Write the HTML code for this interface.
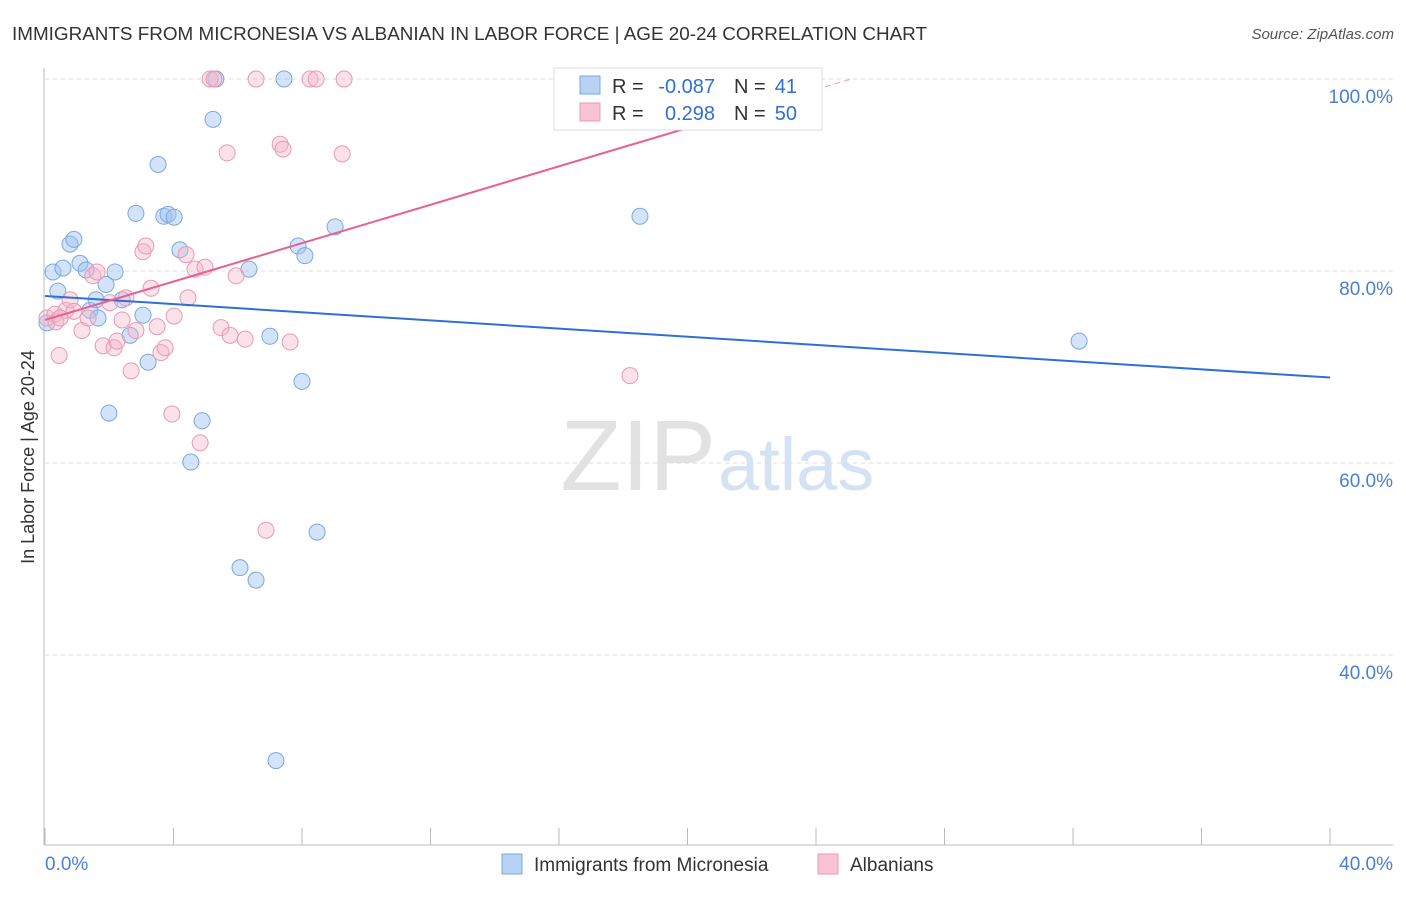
<!DOCTYPE html>
<html><head><meta charset="utf-8"><style>
body{margin:0;background:#fff;font-family:"Liberation Sans",sans-serif;}
svg text{font-family:"Liberation Sans",sans-serif;}
</style></head><body>
<svg id="c" width="1406" height="892">
<text x="12" y="40" font-size="18" fill="#333" textLength="915" lengthAdjust="spacingAndGlyphs">IMMIGRANTS FROM MICRONESIA VS ALBANIAN IN LABOR FORCE | AGE 20-24 CORRELATION CHART</text>
<text x="1394" y="39" font-size="15" fill="#555" font-style="italic" text-anchor="end">Source: ZipAtlas.com</text>
<text x="716" y="490" font-size="100" fill="#e2e2e2" text-anchor="end" font-family="Liberation Serif">ZIP</text>
<text x="718" y="490" font-size="74" fill="#d4e2f4">atlas</text>
<text transform="translate(34,457) rotate(-90)" font-size="18" fill="#333" text-anchor="middle">In Labor Force | Age 20-24</text>
<g id="grid"></g><g id="pts"></g><g id="lines"></g>
<g>
<rect x="554" y="68" width="268" height="62" fill="#fff" stroke="#ddd"/>
<rect x="580" y="76" width="20" height="18" fill="#b8d2f4" stroke="#7aa8e0"/>
<rect x="580" y="103" width="20" height="18" fill="#f8c4d4" stroke="#e89ab3"/>
<text x="612" y="93" font-size="20" fill="#333">R =</text>
<text x="715" y="93" font-size="20" fill="#2f6fd6" text-anchor="end">-0.087</text>
<text x="734" y="93" font-size="20" fill="#333">N =</text>
<text x="797" y="93" font-size="20" fill="#2f6fd6" text-anchor="end">41</text>
<text x="612" y="120" font-size="20" fill="#333">R =</text>
<text x="715" y="120" font-size="20" fill="#2f6fd6" text-anchor="end">0.298</text>
<text x="734" y="120" font-size="20" fill="#333">N =</text>
<text x="797" y="120" font-size="20" fill="#2f6fd6" text-anchor="end">50</text>
</g>
<g>
<rect x="502" y="854" width="20" height="20" fill="#b8d2f4" stroke="#7aa8e0"/>
<text x="534" y="871" font-size="19" fill="#333">Immigrants from Micronesia</text>
<rect x="818" y="854" width="20" height="20" fill="#f8c4d4" stroke="#e89ab3"/>
<text x="850" y="871" font-size="19" fill="#333">Albanians</text>
</g>
</svg>
<script>
const blueX=[0.06,0.25,0.40,0.56,0.78,0.90,1.09,1.28,1.40,1.59,1.65,1.90,1.99,2.18,2.40,2.65,2.83,3.05,3.21,3.52,3.70,3.83,4.02,4.20,4.54,4.89,5.23,5.32,6.07,6.35,6.57,7.00,7.19,7.44,7.88,8.00,8.09,8.47,9.03,18.52,32.19];
const blueY=[74.6,79.9,77.9,80.3,82.8,83.3,80.8,80.1,75.9,77.0,75.1,78.6,65.2,79.9,77.0,73.3,86.0,75.4,70.5,91.1,85.7,85.9,85.6,82.2,60.1,64.4,95.8,100,49.1,80.2,47.8,73.2,29.0,100,82.6,68.5,81.6,52.8,84.6,85.7,72.7];
const pinkX=[0.06,0.31,0.44,0.65,0.78,0.90,1.15,1.34,1.49,1.62,1.81,2.02,2.15,2.24,2.40,2.52,2.68,2.83,3.05,3.14,3.30,3.49,3.61,3.74,3.95,4.02,4.39,4.45,4.67,4.83,4.98,5.14,5.26,5.48,5.67,5.76,5.95,6.23,6.57,6.88,7.32,7.41,7.63,8.25,8.44,9.25,9.31,18.21,0.34,0.47];
const pinkY=[75.1,75.5,71.2,75.9,77.0,75.8,73.8,75.1,79.5,79.9,72.2,76.7,72.0,72.7,74.9,77.2,69.6,73.8,82.0,82.6,78.2,74.2,71.5,72.0,65.1,75.3,81.7,77.2,80.2,62.1,80.4,100,100,74.1,92.3,73.3,79.5,72.9,100,53.0,93.2,92.7,72.6,100,100,92.2,100,69.1,74.7,75.1];
const yTicks=[100,80,60,40];
const yTickLabels=["100.0%","80.0%","60.0%","40.0%"];
const blueTrend=[77.4,68.9];
const pinkTrend=[74.9,1.0];
const X=v=>45+v*32.125, Y=v=>79+(100-v)*9.6;
const NS="http://www.w3.org/2000/svg";
function mk(p,t,a){const e=document.createElementNS(NS,t);for(const k in a)e.setAttribute(k,a[k]);p.appendChild(e);return e;}
const g=document.getElementById('grid');
yTicks.forEach((t,i)=>{
 const l=mk(g,'line',{x1:45,x2:1393,y1:Y(t),y2:Y(t),stroke:'#ddd','stroke-dasharray':'4,4'});
 
 
 const tx=mk(g,'text',{x:1393,y:Y(t)+24,'font-size':19,fill:'#4a7fd4','text-anchor':'end'});tx.textContent=yTickLabels[i];
 
 
});
mk(g,'line',{x1:44,x2:44,y1:68,y2:845,stroke:'#bbb'});
mk(g,'line',{x1:44,x2:1393,y1:845,y2:845,stroke:'#bbb'});
for(let i=0;i<=10;i++){const t=mk(g,'line',{x1:X(i*4),x2:X(i*4),y1:828,y2:845,stroke:'#bbb'});
 
 }
const x0=mk(g,'text',{x:45,y:870,'font-size':19,fill:'#4a7fd4'});x0.textContent='0.0%';


const x1=mk(g,'text',{x:1393,y:870,'font-size':19,fill:'#4a7fd4','text-anchor':'end'});x1.textContent='40.0%';


const P=document.getElementById('pts');
blueX.forEach((v,i)=>{const c=mk(P,'circle',{cx:X(v),cy:Y(blueY[i]),r:8,fill:'rgba(160,196,240,0.45)',stroke:'#7aa8e0','stroke-width':1});
 
 });
pinkX.forEach((v,i)=>{const c=mk(P,'circle',{cx:X(v),cy:Y(pinkY[i]),r:8,fill:'rgba(244,180,200,0.4)',stroke:'#e89ab3','stroke-width':1});
 
 });
const L=document.getElementById('lines');
const bl=mk(L,'line',{x1:X(0),y1:Y(blueTrend[0]),x2:X(40),y2:Y(blueTrend[1]),stroke:'#2f6fd6','stroke-width':2});


const pe=20.1, pd=(100-pinkTrend[0])/pinkTrend[1];
const pl=mk(L,'line',{x1:X(0),y1:Y(pinkTrend[0]),x2:X(pe),y2:Y(pinkTrend[0]+pinkTrend[1]*pe),stroke:'#e8608e','stroke-width':2});


const pdl=mk(L,'line',{x1:X(pe),y1:Y(pinkTrend[0]+pinkTrend[1]*pe),x2:X(pd),y2:Y(100),stroke:'#e8a0b8','stroke-width':1,'stroke-dasharray':'6,4'});


</script>
</body></html>
